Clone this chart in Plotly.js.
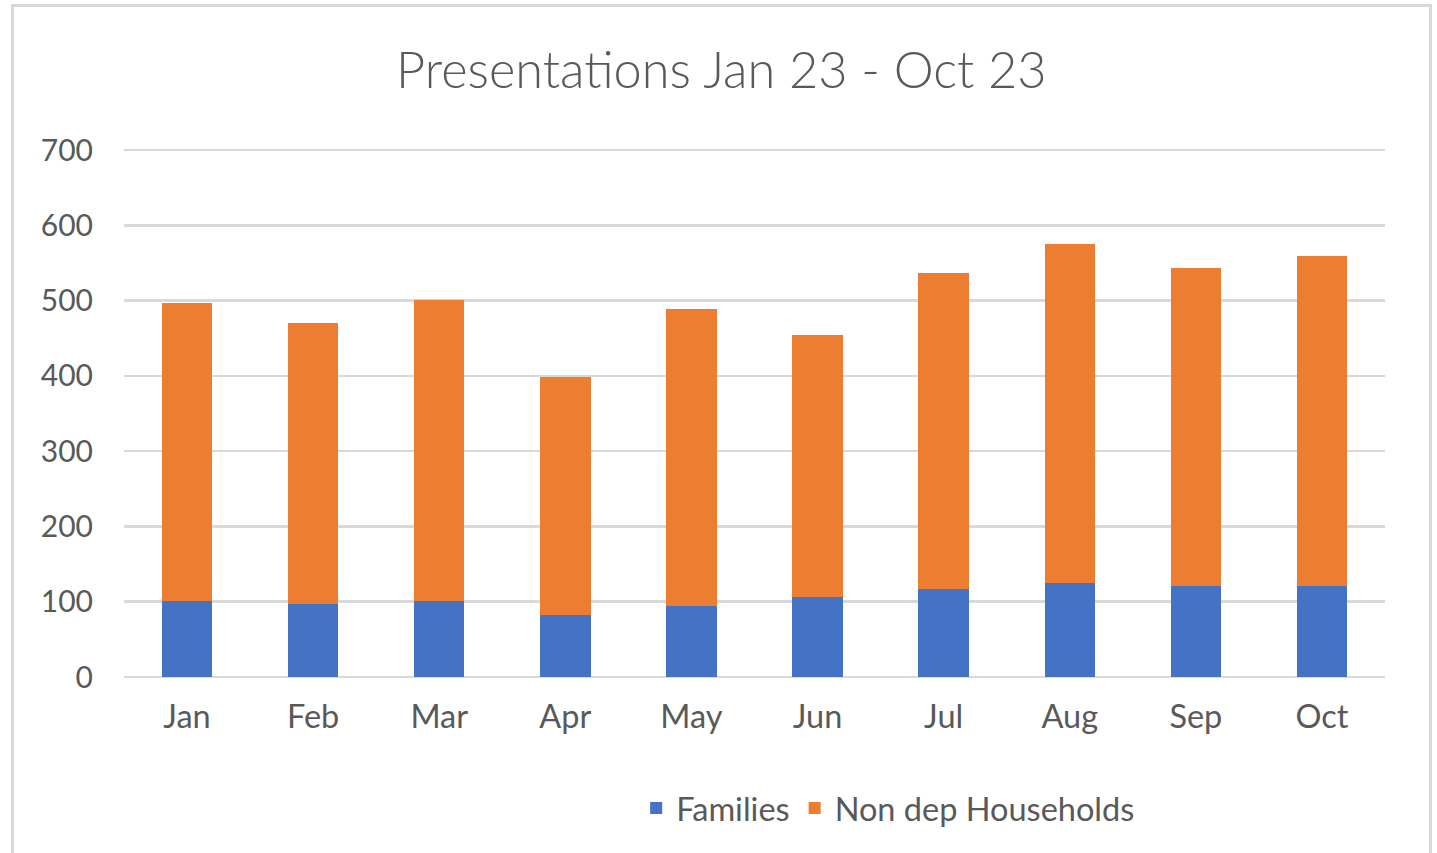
<!DOCTYPE html>
<html>
<head>
<meta charset="utf-8">
<script src="https://cdn.plot.ly/plotly-3.0.1.min.js"></script>
<style>
  html, body { margin: 0; padding: 0; background: #ffffff; }
  #chart { width: 1437px; height: 853px; }
  #frame { position: absolute; left: 11px; top: 4px; width: 1421px; height: 860px;
           border: 3px solid #d9d9d9; box-sizing: border-box; pointer-events: none; }
</style>
</head>
<body>
<div id="chart"></div>
<div id="frame"></div>
<script>
const months = ["Jan", "Feb", "Mar", "Apr", "May", "Jun", "Jul", "Aug", "Sep", "Oct"];
const families = [101, 97, 101, 83, 94, 106, 117, 125, 121, 121];
const nonDepHouseholds = [396, 373, 400, 315, 395, 348, 420, 450, 423, 439];
const yTicks = [0, 100, 200, 300, 400, 500, 600, 700];

const textColor = "#595959";
const font = "Lato, 'Noto Sans', sans-serif";

const traces = [
  { type: "bar", name: "Families", x: months, y: families,
    marker: { color: "#4472c4" }, hoverinfo: "x+y+name" },
  { type: "bar", name: "Non dep Households", x: months, y: nonDepHouseholds,
    marker: { color: "#ed7d31" }, hoverinfo: "x+y+name" }
];

const layout = {
  width: 1437, height: 853,
  paper_bgcolor: "#ffffff", plot_bgcolor: "#ffffff",
  barmode: "stack", bargap: 0.6,
  margin: { l: 124, r: 52, t: 148.5, b: 176 },
  font: { family: font, color: textColor, size: 32 },
  title: { text: "Presentations Jan 23 - Oct 23", x: 0.502, xanchor: "center",
           y: 0.918, yanchor: "middle",
           font: { family: "Lato, sans-serif", weight: 300, size: 50.5, color: textColor } },
  xaxis: { type: "category", tickfont: { size: 32.5, color: textColor }, ticks: "",
           showline: false, showgrid: false, ticklabelstandoff: 17 },
  yaxis: { range: [0, 701.5], tickvals: yTicks, ticktext: yTicks.map(String),
           tickfont: { size: 30, color: textColor }, ticks: "",
           showgrid: true, gridcolor: "#d9d9d9", gridwidth: 2.5,
           zeroline: true, zerolinecolor: "#d9d9d9", zerolinewidth: 2.5,
           showline: false, ticklabelstandoff: 30 },
  legend: { orientation: "h", x: 0.606, xanchor: "center", y: -0.249, yanchor: "middle",
            font: { size: 32.5, color: textColor }, traceorder: "normal" },
  showlegend: true
};

Plotly.newPlot("chart", traces, layout, { displayModeBar: false, staticPlot: true });
</script>
</body>
</html>
